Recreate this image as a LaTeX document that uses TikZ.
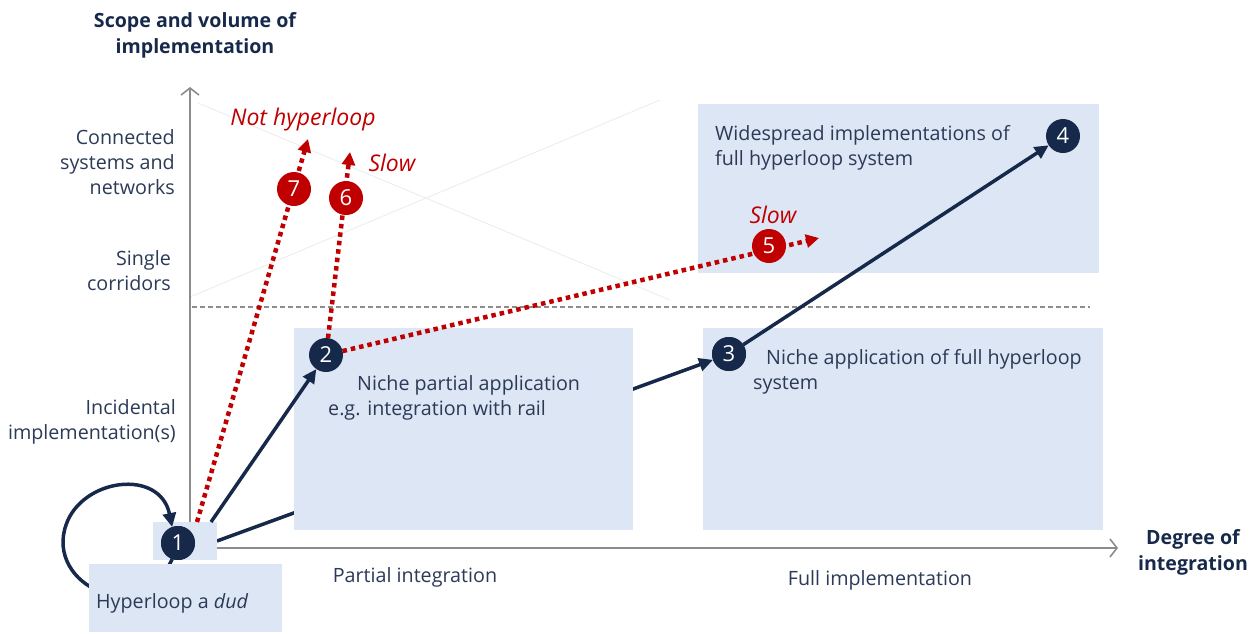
\documentclass[tikz,border=0pt]{standalone}
\usepackage{fontspec}
\setmainfont{Open Sans}
\usetikzlibrary{arrows.meta}
\definecolor{navy}{HTML}{17294A}
\definecolor{txt}{HTML}{2B3A57}
\definecolor{boxfill}{HTML}{DDE6F4}
\definecolor{hred}{HTML}{C00000}
\definecolor{axisgray}{HTML}{8C8C8C}
\definecolor{faint}{HTML}{EDEDED}
\tikzset{
  region/.style={fill=boxfill, draw=none, inner sep=0, outer sep=0},
  numnav/.style={circle, fill=navy, text=white, minimum size=34pt, inner sep=0, outer sep=0, font=\fontsize{22}{22}\selectfont},
  numred/.style={numnav, fill=hred},
  lbl/.style={text=txt, font=\fontsize{19.7}{25}\selectfont, inner sep=0},
  ttl/.style={text=navy, font=\fontsize{19.6}{26}\selectfont\bfseries, inner sep=0, align=center},
  redlbl/.style={text=hred, font=\fontsize{23}{26}\selectfont\itshape, inner sep=0},
  axisline/.style={draw=axisgray, line width=1.6pt, -{Straight Barb[length=7pt,width=18pt,line width=1.6pt]}},
  navyarrow/.style={draw=navy, line width=3.5pt, -{Triangle[length=14pt,width=13pt]}},
  redarrow/.style={draw=hred, line width=4.5pt, dash pattern=on 4.5pt off 4pt, -{Triangle[length=13pt,width=13pt]}},
}
\begin{document}
\begin{tikzpicture}[x=1pt,y=-1pt]
\useasboundingbox (0,0) rectangle (1255,633);
% faint background lines
\draw[faint, line width=0.9pt] (198,103) -- (670,300);
\draw[faint, line width=0.9pt] (190,297) -- (660,100);
% axes
\coordinate (o) at (190,548);
\coordinate (ytop) at (190,87);
\coordinate (xend) at (1118,548);
\coordinate (dl) at (192,307);
\coordinate (dr) at (1090,307);
\draw[axisline] (o) -- (ytop);
\draw[axisline] (o) -- (xend);
\draw[axisgray, line width=1.3pt, dash pattern=on 5pt off 3pt] (dl) -- (dr);
% regions
\node[region, minimum width=400pt, minimum height=202pt, anchor=north west] (b3) at (703,328) {};
\node[region, minimum width=401pt, minimum height=169pt, anchor=north west] (b4) at (698,104) {};
\node[numnav] (n3) at (729,354) {3};
\node[numnav] (n4) at (1063,136) {4};
\node[numnav] (n2) at (326,355) {2};
\node[region, minimum width=64pt, minimum height=38pt, anchor=north west] (b1) at (153,522) {};
% arrow 1 -> 3 (behind region 2)
\draw[navyarrow] (b1.east) -- (n3);
\node[region, minimum width=339pt, minimum height=202pt, anchor=north west] (b2) at (294,328) {};
\node[region, minimum width=64pt, minimum height=38pt, anchor=north west] at (153,522) {};
\node[numnav] (n1) at (178,543) {1};
% self loop
\draw[navyarrow] (n1.250) .. controls (140,630) and (45,585) .. (66,525) .. controls (82,478) and (160,468) .. (n1.110);
\node[region, minimum width=193pt, minimum height=68pt, anchor=north west] (bd) at (89,564) {};
\node[numnav] at (n1) {1};
% arrows
\coordinate (t7) at (308,139);
\coordinate (t6) at (350,152);
\coordinate (t5) at (819,238);
\draw[navyarrow] ([xshift=-6pt]b1.north east) -- (n2);
\draw[navyarrow] (n3) -- (n4);
\draw[redarrow] ([xshift=12pt]b1.north) -- (t7);
\draw[redarrow] (n2) -- (t6);
\draw[redarrow] (n2) -- (t5);
\node[numnav] at (n2) {2};
\node[numnav] at (n3) {3};
\node[numred] (n7) at (294,189) {7};
\node[numred] (n6) at (346,198) {6};
\node[numred] (n5) at (769,246) {5};
% labels
\node[redlbl, anchor=center] (lnot) at (303,120) {Not hyperloop};
\node[redlbl, anchor=center] (ls6) at (392,163) {Slow};
\node[redlbl, anchor=center] (ls5) at (773,215) {Slow};
\node[ttl] (ty) at (195,35) {Scope and volume of\\implementation};
\node[ttl] (tx) at (1193,552) {Degree of\\integration};
\node[lbl, align=right, anchor=north east] (yl1) at (175,129) {Connected\\systems and\\networks};
\node[lbl, align=right, anchor=north east] (yl2) at (171,250) {Single\\corridors};
\node[lbl, align=right, anchor=north east] (yl3) at (176,399) {Incidental\\implementation(s)};
\node[lbl, anchor=center] (xl1) at (415,577) {Partial integration};
\node[lbl, anchor=center] (xl2) at (880,580) {Full implementation};
\node[lbl, align=left, anchor=north west] (tb2) at (328,375) {\hspace*{29pt}Niche partial application\\e.g. integration with rail};
\node[lbl, align=left, anchor=north west] (tb3) at (753,349) {\hspace*{13pt}Niche application of full hyperloop\\system};
\node[lbl, align=left, anchor=north west] (tb4) at (715,125) {Widespread implementations of\\full hyperloop system};
\node[lbl, anchor=west] (tbd) at (96,603) {Hyperloop a \textit{dud}};
\end{tikzpicture}
\end{document}
